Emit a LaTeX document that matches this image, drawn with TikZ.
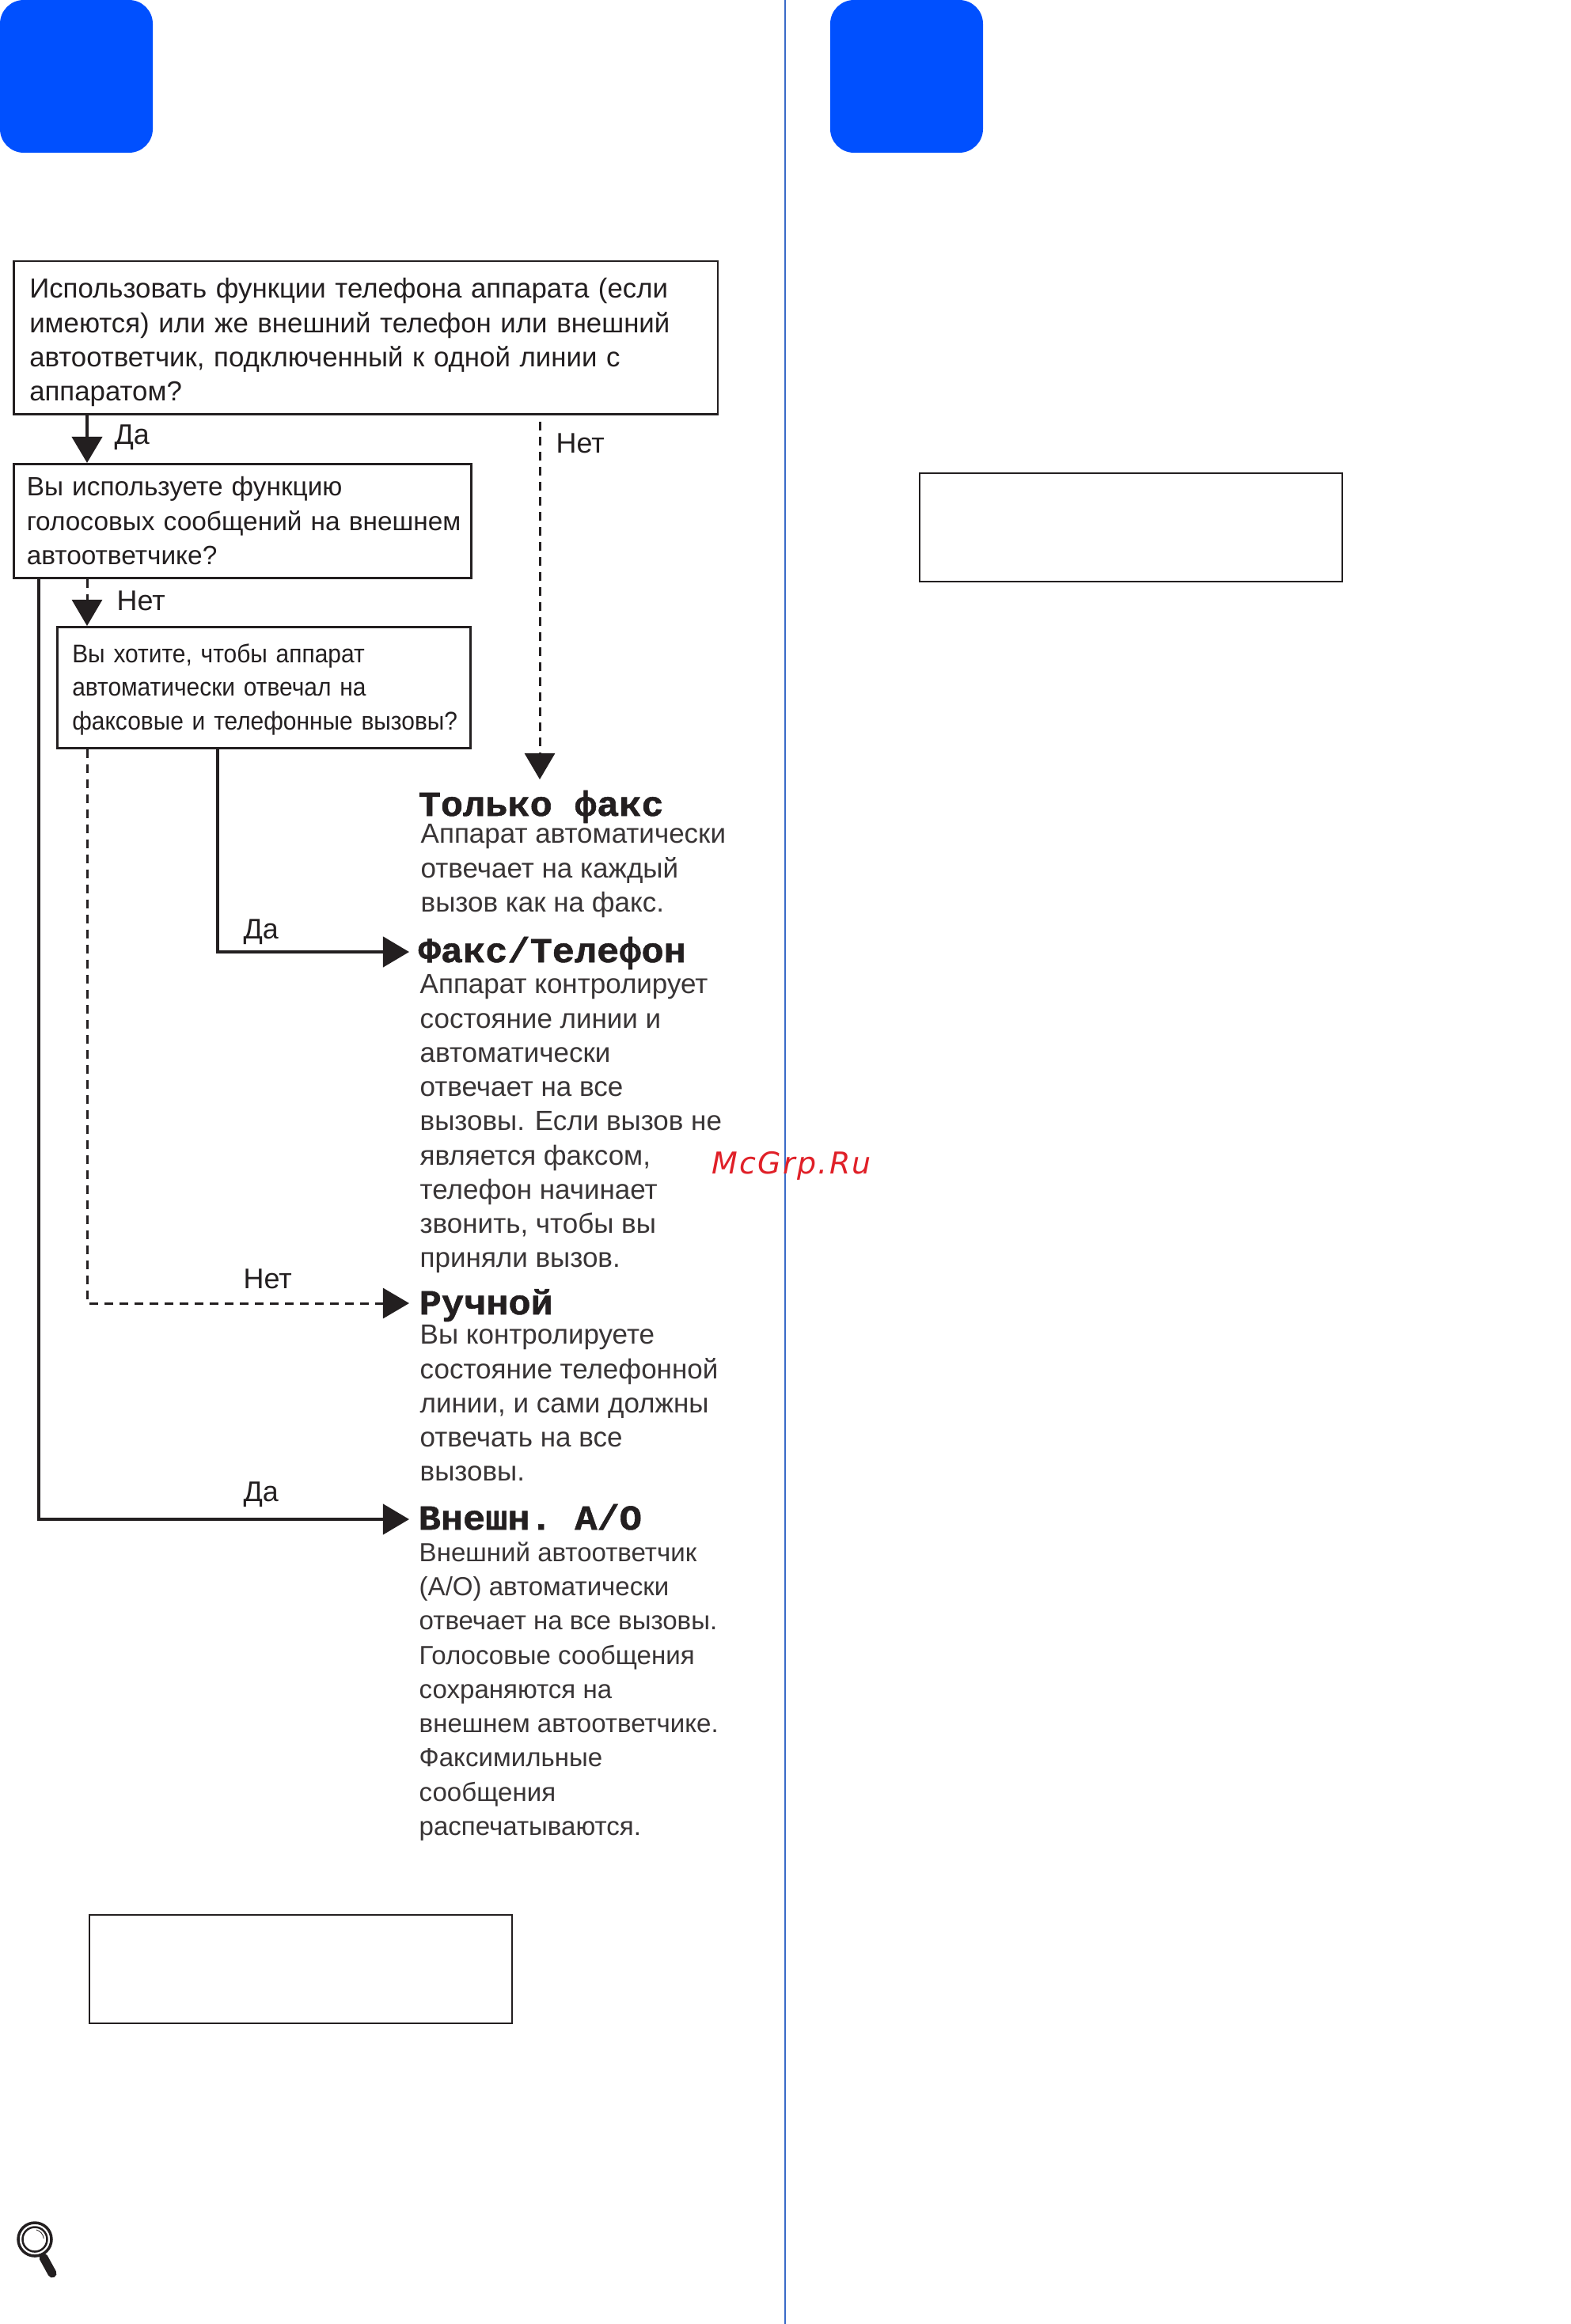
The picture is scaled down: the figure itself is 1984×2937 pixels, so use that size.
\documentclass[tikz,border=0pt]{standalone}
\usepackage{fontspec}
\setmainfont{Liberation Sans}
\newfontfamily\narrowfont[FakeStretch=0.925]{Liberation Sans}
\newfontfamily\headfont[FakeStretch=1.06,FakeBold=1.2]{Liberation Mono Bold}
\newfontfamily\wmfont{DejaVu Sans Oblique}
\usetikzlibrary{arrows.meta}

\definecolor{ink}{HTML}{231F20}
\definecolor{tabblue}{HTML}{0050FF}
\definecolor{rulecol}{HTML}{3A6BC8}
\definecolor{wmred}{HTML}{E02028}

\begin{document}
\begin{tikzpicture}[x=0.01cm, y=-0.01cm, text=ink,
        tab/.style={fill=tabblue, rounded corners=0.3cm},
        askbox/.style={draw=ink, line width=0.025cm, anchor=north west, inner ysep=0pt, align=left},
        emptybox/.style={draw=ink, line width=0.02cm, minimum width=5.33cm, minimum height=1.36cm, inner sep=0pt},
        modehead/.style={anchor=base west, inner sep=0pt, font=\headfont\fontsize{12.6}{14}\selectfont},
        modetext/.style={anchor=north west, inner sep=0pt, align=left, font=\fontsize{9.95}{12.3}\selectfont, text=ink!90},
        answer/.style={anchor=base west, inner sep=0pt, font=\fontsize{10.2}{12.3}\selectfont},
        yesline/.style={draw=ink, line width=0.042cm, -{Triangle[length=0.33cm, width=0.38cm]}},
        noline/.style={draw=ink, line width=0.03cm, dash pattern=on 0.11cm off 0.08cm, -{Triangle[length=0.33cm, width=0.38cm]}}]
    \useasboundingbox (0,0) rectangle (1984,2937);

    \fill[tab] (0,0) rectangle (193,193);
    \fill[tab] (1049,0) rectangle (1242,193);
    \draw[rulecol, line width=0.02cm] (992,0) -- (992,2937);

    \node[askbox, inner xsep=0.2cm, text width=8.49cm, minimum height=1.93cm, font=\fontsize{9.9}{12.3}\selectfont, execute at begin node={\leavevmode\rule{0pt}{0.37cm}}] (phone) at (16,329)
        {Использовать функции телефона аппарата (если\\
         имеются) или же внешний телефон или внешний\\
         автоответчик, подключенный к одной линии с\\
         аппаратом?};
    \node[askbox, inner xsep=0.03cm, text width=5.72cm, minimum height=1.44cm, font=\fontsize{9.5}{12.3}\selectfont, execute at begin node={\leftskip=0.135cm}] (voice) at (16,585)
        {Вы используете функцию\\
         голосовых сообщений на внешнем\\
         автоответчике?};
    \node[askbox, inner xsep=0.03cm, text width=5.16cm, minimum height=1.53cm, font=\narrowfont\fontsize{9.2}{12.2}\selectfont, execute at begin node={\leftskip=0.16cm\leavevmode\rule{0pt}{0.29cm}}] (auto) at (71,791)
        {Вы хотите, чтобы аппарат\\
         автоматически отвечал на\\
         факсовые и телефонные вызовы?};

    \node[modehead] (faxhead) at (528,1031) {Только факс};
    \node[modetext] (faxtext) at (531,1041)
        {Аппарат автоматически\\
         отвечает на каждый\\
         вызов как на факс.};
    \node[modehead] (telhead) at (528,1216) {Факс/Телефон};
    \node[modetext] (teltext) at (530,1231)
        {Аппарат контролирует\\
         состояние линии и\\
         автоматически\\
         отвечает на все\\
         вызовы. Если вызов не\\
         является факсом,\\
         телефон начинает\\
         звонить, чтобы вы\\
         приняли вызов.};
    \node[modehead] (manhead) at (529,1661) {Ручной};
    \node[modetext] (mantext) at (530,1674)
        {Вы контролируете\\
         состояние телефонной\\
         линии, и сами должны\\
         отвечать на все\\
         вызовы.};
    \node[modehead] (tadhead) at (528,1933) {Внешн.\hspace{-0.09cm} A/O};
    \node[modetext, font=\fontsize{9.4}{12.3}\selectfont] (tadtext) at (529,1948)
        {Внешний автоответчик\\
         (A/O) автоматически\\
         отвечает на все вызовы.\\
         Голосовые сообщения\\
         сохраняются на\\
         внешнем автоответчике.\\
         Факсимильные\\
         сообщения\\
         распечатываются.};

    \coordinate (colno) at (110,0);
    \coordinate (coltad) at (49,0);
    \coordinate (colfax) at (275,0);
    \coordinate (colonly) at (682,0);
    \coordinate (tiponly) at (682,985);
    \coordinate (tiptel) at (517,1203);
    \coordinate (tipman) at (517,1647);
    \coordinate (tiptad) at (517,1920);

    \draw[yesline] (phone.south -| colno) -- (voice.north -| colno);
    \draw[noline, shorten <=0.08cm] (phone.south -| colonly) -- (tiponly);
    \draw[noline] (voice.south -| colno) -- (auto.north -| colno);
    \draw[yesline] (voice.south -| coltad) |- (tiptad);
    \draw[yesline] (auto.south -| colfax) |- (tiptel);
    \draw[noline] (auto.south -| colno) |- (tipman);

    \node[answer] (yes1) at (144,561) {Да};
    \node[answer] (no1) at (702,573) {Нет};
    \node[answer] (no2) at (147,771) {Нет};
    \node[answer] (yes2) at (307,1186) {Да};
    \node[answer] (no3) at (307,1628) {Нет};
    \node[answer] (yes3) at (307,1897) {Да};

    \node[emptybox] (noteright) at (1429,666.5) {};
    \node[emptybox] (noteleft) at (380,2488.5) {};

    \node[anchor=base west, inner sep=0pt, text=wmred, font=\wmfont\fontsize{10.8}{13}\selectfont] (mark) at (899,1483) {\addfontfeature{LetterSpace=6}McGrp.Ru};

    \draw[ink, line width=0.035cm] (44,2830) circle (0.21cm);
    \draw[ink, line width=0.025cm] (44,2830) circle (0.155cm);
    \draw[ink, line width=0.008cm] (46,2818) arc (75:5:0.125cm);
    \draw[ink, line width=0.11cm, line cap=round] (55,2853) -- (66,2873);
\end{tikzpicture}
\end{document}
